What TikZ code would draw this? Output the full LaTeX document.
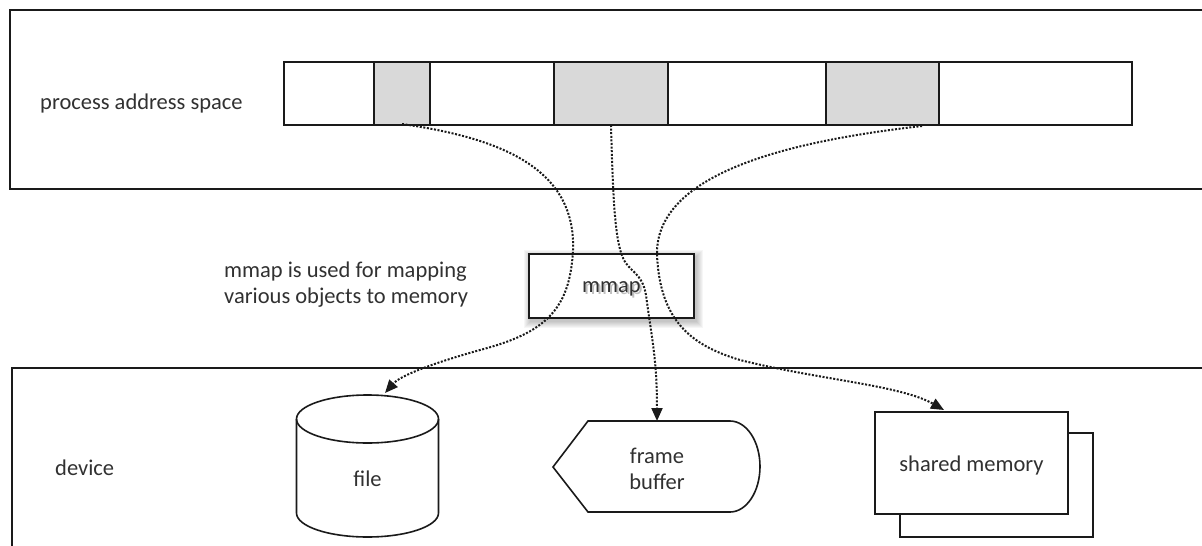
\documentclass[tikz,border=0pt]{standalone}
\usepackage{fontspec}
\setmainfont{Carlito}
\usetikzlibrary{arrows.meta}
\definecolor{cellgray}{HTML}{D9D9D9}
\definecolor{ink}{HTML}{1A1A1A}
\tikzset{
  frame/.style={draw=ink, line width=1.6pt},
  cell/.style={draw=ink, line width=1.6pt, inner sep=0pt, minimum height=63pt, fill=white},
  usedcell/.style={cell, fill=cellgray},
  lbl/.style={inner sep=0pt, anchor=west, text=ink!90},
  shapetxt/.style={inner sep=0pt, text=ink!90, align=center},
  mapline/.style={draw=ink, line width=2pt, dash pattern=on 2pt off 1.6pt,
    -{Triangle[length=13pt,width=11pt]}},
}
\begin{document}
\begin{tikzpicture}[x=1pt,y=-1pt,font=\fontsize{22.5}{26.5}\selectfont]
\useasboundingbox (0,0) rectangle (1202,546);
\begin{scope}
  \clip (0,0) rectangle (1202,546);
  \draw[frame] (10,10) rectangle (1215,189);
  \draw[frame] (12,368) rectangle (1215,560);
\end{scope}
% address space cells
\node[cell, minimum width=90pt]  (c0) at (329,93.5) {};
\node[usedcell, minimum width=56pt]  (c1) at (402,93.5) {};
\node[cell, minimum width=124pt] (c2) at (492,93.5) {};
\node[usedcell, minimum width=114pt] (c3) at (611,93.5) {};
\node[cell, minimum width=158pt] (c4) at (747,93.5) {};
\node[usedcell, minimum width=113pt] (c5) at (882.5,93.5) {};
\node[cell, minimum width=193pt] (c6) at (1035.5,93.5) {};
\node[lbl] (pas) at (40,104) {process address space};
% mmap box with soft shadow
\foreach \k in {1,...,7}{
  \fill[black, opacity=0.035] (529-\k+2,254-\k+3) rectangle (694+\k+2,318+\k+3);
}
\fill[white] (529,254) rectangle (694,318);
\node[draw=ink, line width=1.6pt, minimum width=165pt, minimum height=64pt, inner sep=0pt] (mmap) at (611.5,286) {};
\node[shapetxt, text=black!25] at (613.5,291) {mmap};
\node[shapetxt] (mmaptxt) at (611.5,289) {mmap};
\node[lbl] (note1) at (224,272) {mmap is used for mapping};
\node[lbl] (note2) at (224,298) {various objects to memory};
% device
\node[lbl] (dev) at (55,468) {device};
% file cylinder
\fill[white] (296.5,419) -- (296.5,513) arc[start angle=180, end angle=0, x radius=71, y radius=24] -- (438.5,419) -- cycle;
\draw[frame] (367.5,419) ellipse [x radius=71, y radius=24];
\draw[frame] (296.5,419) -- (296.5,513) arc[start angle=180, end angle=0, x radius=71, y radius=24] -- (438.5,419);
\node[shapetxt] (file) at (367.5,479) {file};
\coordinate (filetop) at (385,393);
% frame buffer
\draw[frame, fill=white] (553,467) -- (588,421) -- (730,421) arc[start angle=-90, end angle=90, x radius=30, y radius=45.5] -- (588,512) -- cycle;
\node[shapetxt] (fb) at (657,469) {frame\\buffer};
\coordinate (fbtop) at (657,421);
% shared memory
\draw[frame, fill=white] (900,433) rectangle (1093,537);
\node[draw=ink, line width=1.6pt, fill=white, minimum width=193pt, minimum height=102pt, inner sep=0pt] (shm) at (971.5,463) {};
\node[shapetxt] (shmtxt) at (971.5,465) {shared memory};
\coordinate (shmtop) at (944,410);
% mapping lines
\coordinate (s1) at (402,124);
\coordinate (s2) at (611,125);
\coordinate (s3) at (922,126);
\draw[mapline] (s1) .. controls (500,138) and (576,168) .. (573,250)
  .. controls (570,310) and (545,333) .. (480,350)
  .. controls (430,364) and (400,376) .. (filetop);
\draw[mapline] (s2) .. controls (613,200) and (615,240) .. (623,258)
  .. controls (629,272) and (642,272) .. (646,295)
  .. controls (652,340) and (657,360) .. (fbtop);
\draw[mapline] (s3) .. controls (800,140) and (655,170) .. (657,255)
  .. controls (660,320) and (690,345) .. (740,360)
  .. controls (820,380) and (900,385) .. (shmtop);
\end{tikzpicture}
\end{document}
